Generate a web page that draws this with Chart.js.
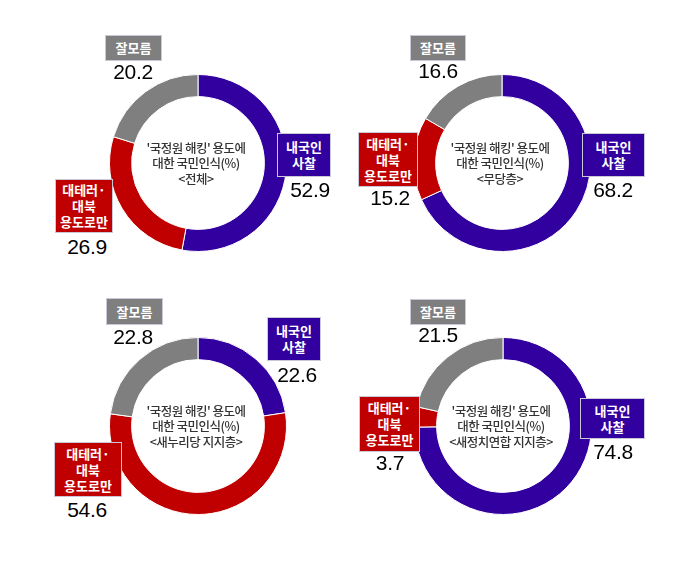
<!DOCTYPE html>
<html>
<head>
<meta charset="utf-8">
<script src="https://cdn.jsdelivr.net/npm/chart.js@4.4.0/dist/chart.umd.min.js"></script>
<style>
  body { margin: 0; background: #fff; }
  #wrap { position: relative; width: 692px; height: 563px; overflow: hidden; }
  canvas { position: absolute; }
  .box {
    position: absolute; color: #fff; font-family: "Noto Sans CJK KR", sans-serif;
    font-size: 13px; font-weight: bold; line-height: 16px; text-align: center;
    box-sizing: border-box; border: 1px solid #c8c8d8;
    display: flex; align-items: center; justify-content: center;
  }
  .val {
    position: absolute; font-family: "Liberation Sans", Arial, sans-serif;
    font-size: 21px; color: #000; transform: translate(-50%, -50%); white-space: nowrap;
    letter-spacing: -0.3px;
  }
  .mid {
    position: absolute; font-family: "Noto Sans CJK KR", sans-serif; font-size: 12.5px;
    font-weight: 500; letter-spacing: -0.5px;
    color: #333; line-height: 15.5px; text-align: center; width: 130px;
    transform: translate(-50%, -50%);
  }
</style>
</head>
<body>
<div id="wrap"></div>
<script>
// data
var categories = ['내국인<br>사찰', '대테러·<br>대북<br>용도로만', '잘모름'];
var groups = ['전체', '무당층', '새누리당 지지층', '새정치연합 지지층'];
var surveyAll = [52.9, 26.9, 20.2];
var surveyIndep = [68.2, 15.2, 16.6];
var surveySaenuri = [22.6, 54.6, 22.8];
var surveyNPAD = [74.8, 3.7, 21.5];
var colors = ['#3300a0', '#c00000', '#7f7f7f'];

var series = [surveyAll, surveyIndep, surveySaenuri, surveyNPAD];

// layout of each panel: ring centre, then label box [x, y, w, h] and value centre per category
var panels = [
    { cx: 198, cy: 162.5,
      boxes: [[277, 133, 54, 44], [55, 179, 58, 54], [105, 35, 57, 26]],
      vals: [[310, 190], [87, 247], [133, 72]] },
    { cx: 502, cy: 162.5,
      boxes: [[582, 133, 63, 44], [358, 132, 60, 55], [410, 35, 56, 26]],
      vals: [[613, 190], [390, 198], [438, 71]] },
    { cx: 198, cy: 425.5,
      boxes: [[267, 317, 54, 44], [54, 442, 68, 55], [106, 298, 57, 27]],
      vals: [[297, 375], [87, 510], [133, 337]] },
    { cx: 503, cy: 425.5,
      boxes: [[580, 398, 65, 41], [359, 396, 61, 56], [410, 299, 56, 26]],
      vals: [[613, 452], [390, 463], [438, 335]] }
];

var wrap = document.getElementById('wrap');

panels.forEach(function (p, i) {
    var cv = document.createElement('canvas');
    cv.width = 180;
    cv.height = 180;
    cv.style.left = (p.cx - 90) + 'px';
    cv.style.top = (p.cy - 90) + 'px';
    wrap.appendChild(cv);

    new Chart(cv, {
        type: 'doughnut',
        data: {
            labels: categories.map(function (c) { return c.replace(/<br>/g, ' '); }),
            datasets: [{
                data: series[i],
                backgroundColor: colors,
                borderColor: '#ffffff',
                borderWidth: 1,
                hoverOffset: 0
            }]
        },
        options: {
            responsive: false,
            animation: false,
            cutout: '75%',
            layout: { padding: 1 },
            plugins: {
                legend: { display: false },
                tooltip: { enabled: false }
            }
        }
    });

    var mid = document.createElement('div');
    mid.className = 'mid';
    mid.style.left = (p.cx - 2) + 'px';
    mid.style.top = (p.cy) + 'px';
    mid.innerHTML = "'국정원 해킹' 용도에<br>대한 국민인식(%)<br>&lt;" + groups[i] + "&gt;";
    wrap.appendChild(mid);

    categories.forEach(function (c, k) {
        var b = p.boxes[k];
        var box = document.createElement('div');
        box.className = 'box';
        box.style.left = b[0] + 'px';
        box.style.top = b[1] + 'px';
        box.style.width = b[2] + 'px';
        box.style.height = b[3] + 'px';
        box.style.background = colors[k];
        box.innerHTML = '<span>' + c + '</span>';
        wrap.appendChild(box);

        var v = document.createElement('div');
        v.className = 'val';
        v.style.left = p.vals[k][0] + 'px';
        v.style.top = p.vals[k][1] + 'px';
        v.textContent = series[i][k].toFixed(1);
        wrap.appendChild(v);
    });
});
</script>
</body>
</html>
